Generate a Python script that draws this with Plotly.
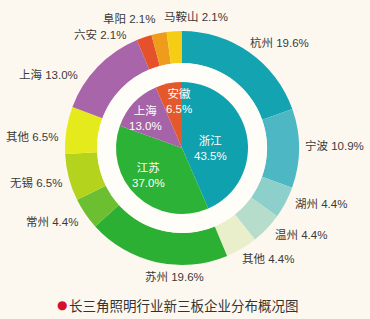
import math
import plotly.graph_objects as go

# ---- data ----
inner_labels = ["浙江", "江苏", "上海", "安徽"]
inner_values = [43.5, 37.0, 13.0, 6.5]
inner_colors = ["#10a1ae", "#2cb237", "#a663a7", "#e5582b"]

outer_labels = ["杭州", "宁波", "湖州", "温州", "其他", "苏州", "常州", "无锡", "其他",
                "上海", "六安", "阜阳", "马鞍山"]
outer_values = [19.6, 10.9, 4.4, 4.4, 4.4, 19.6, 4.4, 6.5, 6.5, 13.0, 2.1, 2.1, 2.1]
outer_colors = ["#14a4b1", "#4db8c3", "#8dcfcb", "#b6dccc", "#e9efca", "#2bb034",
                "#6bbf30", "#b4d31c", "#e5ea1d", "#a865a9", "#e4512b", "#ef9b1b", "#f5cd14"]

caption = "长三角照明行业新三板企业分布概况图"

W, H = 370, 319
BG = "#fdf8ef"
cx, cy = 182, 148          # pixel centre (from top)
R_OUT, R_HOLE, R_BAND, R_IN = 117, 85, 85, 66


def dom(r):
    return dict(x=[(cx - r) / W, (cx + r) / W],
                y=[(H - cy - r) / H, (H - cy + r) / H])


fig = go.Figure()
fig.add_trace(go.Pie(values=outer_values, labels=[f"{l}{i}" for i, l in enumerate(outer_labels)],
                     marker=dict(colors=outer_colors, line=dict(width=0)),
                     hole=R_HOLE / R_OUT, sort=False, direction="clockwise", rotation=0,
                     textinfo="none", domain=dom(R_OUT), showlegend=False))
fig.add_trace(go.Pie(values=[1], labels=["band"],
                     marker=dict(colors=["#fffdf8"], line=dict(width=0)),
                     sort=False, textinfo="none", domain=dom(R_BAND), showlegend=False,
                     hoverinfo="skip"))
fig.add_trace(go.Pie(values=inner_values, labels=inner_labels,
                     marker=dict(colors=inner_colors, line=dict(width=0)),
                     sort=False, direction="clockwise", rotation=0,
                     textinfo="none", domain=dom(R_IN), showlegend=False))

FONT = "Liberation Sans, Arial, Noto Sans CJK SC, sans-serif"
anns = []

# outer labels: pixel anchor positions (layout only)
outer_pos = [(248, 42, "left"), (303, 145, "left"), (293, 203, "left"), (273, 234, "left"),
             (240, 259, "left"), (174, 277, "center"), (80, 222, "right"), (64, 182, "right"),
             (60, 137, "right"), (80, 74, "right"), (128, 34, "right"), (157, 19, "right"),
             (196, 16, "center")]
for lab, v, (px, py, anc) in zip(outer_labels, outer_values, outer_pos):
    anns.append(dict(x=px / W, y=1 - py / H, xref="paper", yref="paper", xanchor=anc,
                     yanchor="middle", showarrow=False, text=f"{lab} {v:.1f}%",
                     font=dict(size=11.5, color="#3a3a3a", family=FONT)))

inner_pos = [(210, 148), (148, 175), (145, 118), (179, 101)]
for lab, v, (px, py) in zip(inner_labels, inner_values, inner_pos):
    anns.append(dict(x=px / W, y=1 - py / H, xref="paper", yref="paper", xanchor="center",
                     yanchor="middle", showarrow=False, text=f"{lab}<br>{v:.1f}%",
                     font=dict(size=11.5, color="white", family=FONT)))

anns.append(dict(x=67 / W, y=1 - 305 / H, xref="paper", yref="paper", xanchor="left",
                 yanchor="middle", showarrow=False, text=caption,
                 font=dict(size=13.5, color="#333333", family="Noto Sans CJK SC, sans-serif")))
anns.append(dict(x=62 / W, y=1 - 305 / H, xref="paper", yref="paper", xanchor="center",
                 yanchor="middle", showarrow=False, text="●",
                 font=dict(size=12, color="#d5102b", family="DejaVu Sans")))

fig.update_layout(width=W, height=H, margin=dict(l=0, r=0, t=0, b=0),
                  paper_bgcolor=BG, plot_bgcolor=BG, annotations=anns)
fig.write_html("out.html")
